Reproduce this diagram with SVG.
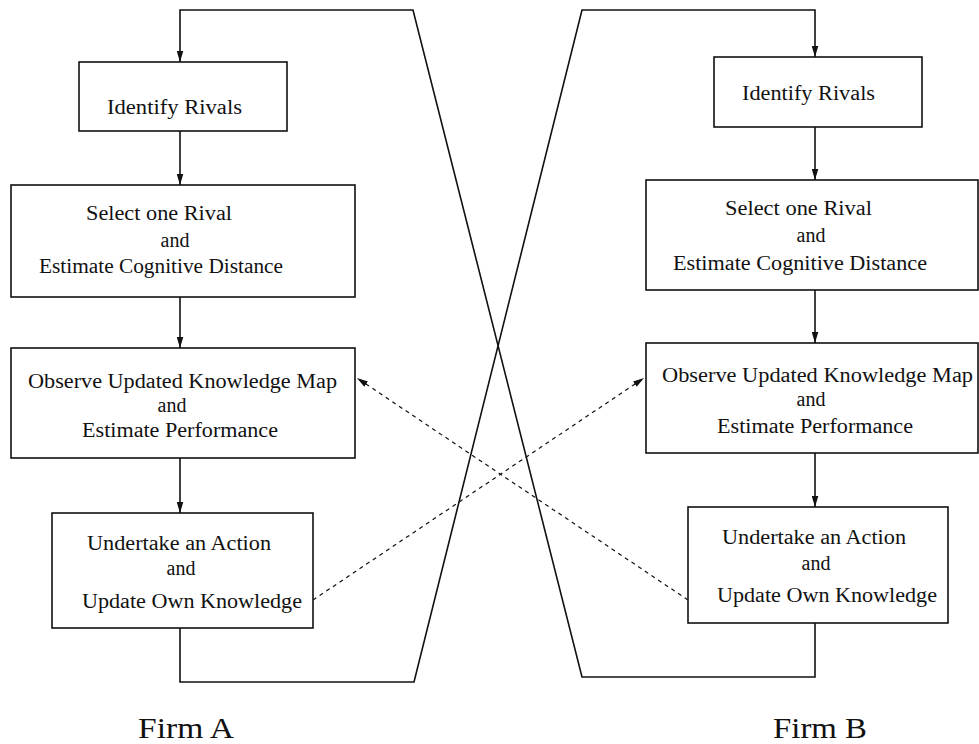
<svg xmlns="http://www.w3.org/2000/svg" width="979" height="744" viewBox="0 0 979 744">
<defs>
<marker id="ah" viewBox="0 0 10 6" refX="10" refY="3" markerWidth="11" markerHeight="7" orient="auto" markerUnits="userSpaceOnUse">
<path d="M0,0 L10,3 L0,6 z" fill="#111"/>
</marker>
<style>
.box{fill:#fff;stroke:#111;stroke-width:1.6}
.t{font-family:"Liberation Serif","DejaVu Serif",serif;font-size:20px;fill:#111}
.m{text-anchor:middle}
.big{font-family:"Liberation Serif","DejaVu Serif",serif;font-size:30px;fill:#111}
.ln{fill:none;stroke:#111;stroke-width:1.6}
.dl{fill:none;stroke:#111;stroke-width:1.2;stroke-dasharray:4 4}
</style>
</defs>
<rect width="979" height="744" fill="#fff"/>
<g id="connectors">
<path class="ln" d="M180,628 L180,682 L414,682 L582,10 L815,10 L815,57" marker-end="url(#ah)"/>
<path class="ln" d="M815,623 L815,677 L582,677 L413,10 L180,10 L180,62" marker-end="url(#ah)"/>
<path class="ln" d="M180,131 L180,185" marker-end="url(#ah)"/>
<path class="ln" d="M180,297 L180,348" marker-end="url(#ah)"/>
<path class="ln" d="M180,458 L180,513" marker-end="url(#ah)"/>
<path class="ln" d="M815,127 L815,180" marker-end="url(#ah)"/>
<path class="ln" d="M815,290 L815,343" marker-end="url(#ah)"/>
<path class="ln" d="M815,453 L815,507" marker-end="url(#ah)"/>
<path class="dl" d="M313,600 L644,378" marker-end="url(#ah)"/>
<path class="dl" d="M688,600 L357,378" marker-end="url(#ah)"/>
</g>
<g id="a1">
<rect class="box" x="79" y="62" width="208" height="69"/>
<text class="t" x="107" y="114" textLength="135" lengthAdjust="spacingAndGlyphs">Identify Rivals</text>
</g>
<g id="a2">
<rect class="box" x="11" y="185" width="344" height="112"/>
<text class="t" x="86" y="220" textLength="146" lengthAdjust="spacingAndGlyphs">Select one Rival</text>
<text class="t m" x="175" y="247">and</text>
<text class="t" x="39" y="273" textLength="244" lengthAdjust="spacingAndGlyphs">Estimate Cognitive Distance</text>
</g>
<g id="a3">
<rect class="box" x="11" y="348" width="344" height="110"/>
<text class="t" x="28" y="388" textLength="309" lengthAdjust="spacingAndGlyphs">Observe Updated Knowledge Map</text>
<text class="t m" x="172" y="412">and</text>
<text class="t" x="82" y="437" textLength="196" lengthAdjust="spacingAndGlyphs">Estimate Performance</text>
</g>
<g id="a4">
<rect class="box" x="52" y="513" width="261" height="115"/>
<text class="t" x="87" y="550" textLength="184" lengthAdjust="spacingAndGlyphs">Undertake an Action</text>
<text class="t m" x="181" y="575">and</text>
<text class="t" x="82" y="608" textLength="220" lengthAdjust="spacingAndGlyphs">Update Own Knowledge</text>
</g>
<g id="b1">
<rect class="box" x="714" y="57" width="208" height="70"/>
<text class="t" x="742" y="100" textLength="133" lengthAdjust="spacingAndGlyphs">Identify Rivals</text>
</g>
<g id="b2">
<rect class="box" x="646" y="180" width="332" height="110"/>
<text class="t" x="725" y="215" textLength="147" lengthAdjust="spacingAndGlyphs">Select one Rival</text>
<text class="t m" x="811" y="242">and</text>
<text class="t" x="673" y="270" textLength="254" lengthAdjust="spacingAndGlyphs">Estimate Cognitive Distance</text>
</g>
<g id="b3">
<rect class="box" x="646" y="343" width="332" height="110"/>
<text class="t" x="662" y="382" textLength="311" lengthAdjust="spacingAndGlyphs">Observe Updated Knowledge Map</text>
<text class="t m" x="811" y="406">and</text>
<text class="t" x="717" y="433" textLength="196" lengthAdjust="spacingAndGlyphs">Estimate Performance</text>
</g>
<g id="b4">
<rect class="box" x="688" y="507" width="260" height="116"/>
<text class="t" x="722" y="544" textLength="184" lengthAdjust="spacingAndGlyphs">Undertake an Action</text>
<text class="t m" x="816" y="570">and</text>
<text class="t" x="717" y="602" textLength="220" lengthAdjust="spacingAndGlyphs">Update Own Knowledge</text>
</g>
<g id="labels">
<text class="big" x="138" y="738" textLength="96" lengthAdjust="spacingAndGlyphs">Firm A</text>
<text class="big" x="773" y="738" textLength="94" lengthAdjust="spacingAndGlyphs">Firm B</text>
</g>
</svg>
